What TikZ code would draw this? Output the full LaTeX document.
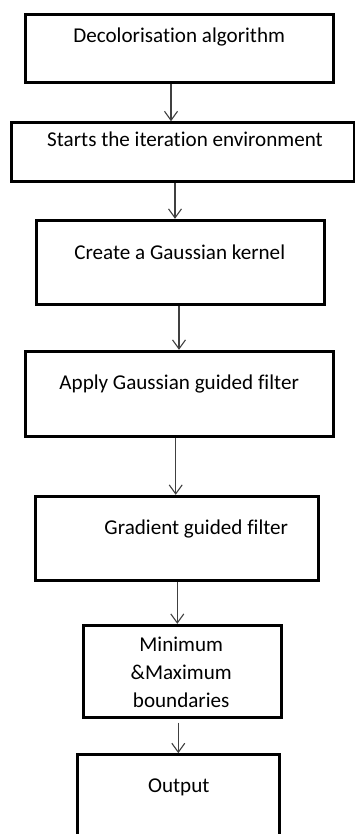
\documentclass[tikz,border=0pt]{standalone}
\usepackage{fontspec}
\setmainfont[Ligatures=NoCommon]{Carlito}
\usetikzlibrary{arrows.meta}
\definecolor{arrowgray}{RGB}{64,64,64}
\begin{document}
\begin{tikzpicture}[x=1pt,y=-1pt,
  box/.style={draw=black,line width=3pt,inner sep=0pt,fill=white},
  txt/.style={anchor=base,inner sep=0pt,font=\fontsize{21.1}{28}\selectfont,text=black},
  arr/.style={draw=arrowgray,line width=1.1pt,-{Straight Barb[length=9pt,width=13pt,line width=1.1pt]}}]
\useasboundingbox (0,0) rectangle (355,834);
\clip (0,0) rectangle (355,834);
% boxes
\node[box,minimum width=307.7pt,minimum height=67.6pt] (b1) at (179.2,48.5) {};
\node[box,minimum width=342.7pt,minimum height=58.5pt] (b2) at (182.7,152) {};
\node[box,minimum width=288.5pt,minimum height=84.4pt] (b3) at (180.4,262.5) {};
\node[box,minimum width=308.4pt,minimum height=85pt] (b4) at (179.5,393.8) {};
\node[box,minimum width=282.7pt,minimum height=84.4pt] (b5) at (177.3,538.5) {};
\node[box,minimum width=198.3pt,minimum height=91.7pt] (b6) at (182.2,671.2) {};
\node[box,minimum width=201.7pt,minimum height=95.3pt] (b7) at (178.8,802.3) {};
% texts
\node[txt] (t1) at (179.2,42.7) {Decolorisation algorithm};
\node[txt] (t2) at (185,146.7) {Starts the iteration environment};
\node[txt] (t3) at (179.7,259) {Create a Gaussian kernel};
\node[txt] (t4) at (179.2,389.3) {Apply Gaussian guided filter};
\node[txt] (t5) at (196.3,534) {Gradient guided filter};
\node[txt,align=center] (t6) at (181.2,707.7) {Minimum\\\&Maximum\\boundaries};
\node[txt] (t7) at (178.8,792.3) {Output};
% arrows
\draw[arr] (b1.south -| 171,0) -- (b2.north -| 171,0);
\draw[arr] (b2.south -| 175,0) -- (b3.north -| 175,0);
\draw[arr] (b3.south -| 179,0) -- (b4.north -| 179,0);
\draw[arr] (b4.south -| 175.7,0) -- (b5.north -| 175.7,0);
\draw[arr] (b5.south -| 177.3,0) -- (b6.north -| 177.3,0);
\draw[arr] ([yshift=-4pt]b6.south -| 178.3,0) -- (b7.north -| 178.3,0);
\end{tikzpicture}
\end{document}
